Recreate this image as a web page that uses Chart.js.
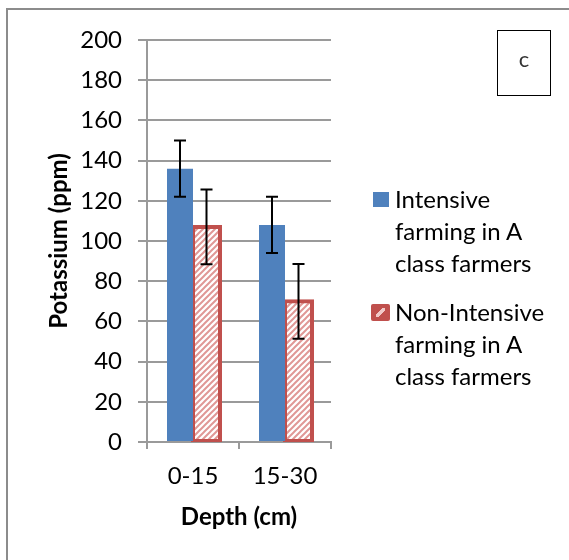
<!DOCTYPE html>
<html>
<head>
<meta charset="utf-8">
<script src="https://cdn.jsdelivr.net/npm/chart.js@4.4.1/dist/chart.umd.min.js"></script>
<style>
  html, body { margin: 0; padding: 0; background: #fff; }
  #wrap { position: relative; width: 569px; height: 560px; overflow: hidden; background: #fff; }
  #frame { position: absolute; left: 6px; top: 8px; width: 700px; height: 700px;
           border-top: 2px solid #8c8c8c; border-left: 2px solid #8c8c8c; }
  #chart { position: absolute; left: 0; top: 0; }
  #legend { position: absolute; left: 373px; top: 183px; font-family: Lato, "Open Sans", sans-serif;
            font-size: 24px; line-height: 32px; color: #000; }
  .item { display: flex; align-items: flex-start; margin-bottom: 17px; }
  .sw { flex: none; box-sizing: border-box; margin-right: 6px; }
  .sw.blue { width: 16px; height: 15px; margin-top: 9px; background: #4F81BD; }
  .sw.red { width: 19px; height: 17px; margin-top: 8px; margin-left: -2px; margin-right: 5px;
            border-radius: 2px; background-color: #C0504D;
            background-image: linear-gradient(-45deg, transparent 38%, #f1c9c8 38%, #f1c9c8 62%, transparent 62%);
            background-size: 9px 9px; background-repeat: no-repeat; background-position: center; }
  #tag { position: absolute; left: 497px; top: 30px; width: 54px; height: 66px; box-sizing: border-box;
         border: 1.5px solid #000; font-family: Lato, sans-serif; font-size: 22px; color: #333;
         text-align: center; line-height: 56px; }
</style>
</head>
<body>
<div id="wrap">
  <div id="frame"></div>
  <canvas id="chart" width="569" height="560"></canvas>
  <div id="legend"></div>
  <div id="tag">c</div>
</div>
<script>
// ---- data ----
const categories = ['0-15', '15-30'];
const seriesNames = ['Intensive farming in A class farmers', 'Non-Intensive farming in A class farmers'];
const seriesLegendLines = [['Intensive', 'farming in A', 'class farmers'], ['Non-Intensive', 'farming in A', 'class farmers']];
const intensive = [136, 108];
const intensiveErr = [14, 14];
const nonIntensive = [107, 70];
const nonIntensiveErr = [18.6, 18.6];
const yMin = 0, yMax = 200, yStep = 20;
const xTitle = 'Depth (cm)';
const yTitle = 'Potassium (ppm)';
const errors = [intensiveErr, nonIntensiveErr];

// ---- styling helpers ----
function hatchPattern() {
  const s = 6;
  const c = document.createElement('canvas');
  c.width = s; c.height = s;
  const g = c.getContext('2d');
  g.fillStyle = '#ffffff';
  g.fillRect(0, 0, s, s);
  g.strokeStyle = '#e09896';
  g.lineWidth = 2;
  g.beginPath();
  g.moveTo(0, s); g.lineTo(s, 0);
  g.moveTo(-1, 1); g.lineTo(1, -1);
  g.moveTo(s - 1, s + 1); g.lineTo(s + 1, s - 1);
  g.stroke();
  return document.getElementById('chart').getContext('2d').createPattern(c, 'repeat');
}

const errorBars = {
  id: 'errorBars',
  afterDatasetsDraw(chart) {
    const ctx = chart.ctx;
    const y = chart.scales.y;
    chart.data.datasets.forEach((ds, i) => {
      const meta = chart.getDatasetMeta(i);
      meta.data.forEach((bar, j) => {
        const v = ds.data[j], e = errors[i][j];
        const yt = y.getPixelForValue(v + e);
        const yb = y.getPixelForValue(v - e);
        const x = bar.x;
        ctx.save();
        ctx.strokeStyle = '#000';
        ctx.lineWidth = 2;
        ctx.beginPath();
        ctx.moveTo(x, yt); ctx.lineTo(x, yb);
        ctx.moveTo(x - 6, yt); ctx.lineTo(x + 6, yt);
        ctx.moveTo(x - 6, yb); ctx.lineTo(x + 6, yb);
        ctx.stroke();
        ctx.restore();
      });
    });
  }
};

const font = 'Lato, "Open Sans", sans-serif';
const gridColor = '#9a9a9a';

new Chart(document.getElementById('chart'), {
  type: 'bar',
  data: {
    labels: categories,
    datasets: [
      { label: seriesNames[0], data: intensive, backgroundColor: '#4F81BD', borderWidth: 0,
        barThickness: 26, inflateAmount: 0 },
      { label: seriesNames[1], data: nonIntensive, backgroundColor: hatchPattern(), borderColor: '#C0504D',
        borderWidth: 4, borderSkipped: false, barThickness: 27, inflateAmount: 2 }
    ]
  },
  options: {
    responsive: false,
    animation: false,
    devicePixelRatio: 1,
    layout: { padding: { left: 0, top: 40, right: 238, bottom: 0 } },
    plugins: { legend: { display: false }, tooltip: { enabled: false } },
    scales: {
      x: {
        offset: true,
        grid: { offset: true, drawOnChartArea: false, drawTicks: true, tickLength: 7, color: gridColor, lineWidth: 2 },
        border: { display: true, color: gridColor, width: 2 },
        ticks: { font: { family: font, size: 24 }, color: '#000', padding: 13 },
        title: { display: true, text: xTitle, color: '#000', font: { family: font, size: 24, weight: 'bold' },
                 padding: { top: 0, bottom: 28 } },
        afterFit(s) { s.height = 118; }
      },
      y: {
        min: yMin, max: yMax,
        ticks: { stepSize: yStep, font: { family: font, size: 24 }, color: '#000', padding: 16 },
        grid: { color: gridColor, lineWidth: 2, drawTicks: true, tickLength: 9 },
        border: { display: true, color: gridColor, width: 2 },
        title: { display: true, text: yTitle, color: '#000', font: { family: font, size: 24, weight: 'bold' },
                 padding: { top: 45, bottom: 0 } },
        afterFit(s) { s.width = 147; }
      }
    }
  },
  plugins: [errorBars]
});

// HTML legend built from the series names
const legend = document.getElementById('legend');
seriesLegendLines.forEach((lines, i) => {
  const item = document.createElement('div');
  item.className = 'item';
  const sw = document.createElement('div');
  sw.className = 'sw ' + (i === 0 ? 'blue' : 'red');
  const tx = document.createElement('div');
  tx.innerHTML = lines.join('<br>');
  item.appendChild(sw); item.appendChild(tx);
  legend.appendChild(item);
});
</script>
</body>
</html>
